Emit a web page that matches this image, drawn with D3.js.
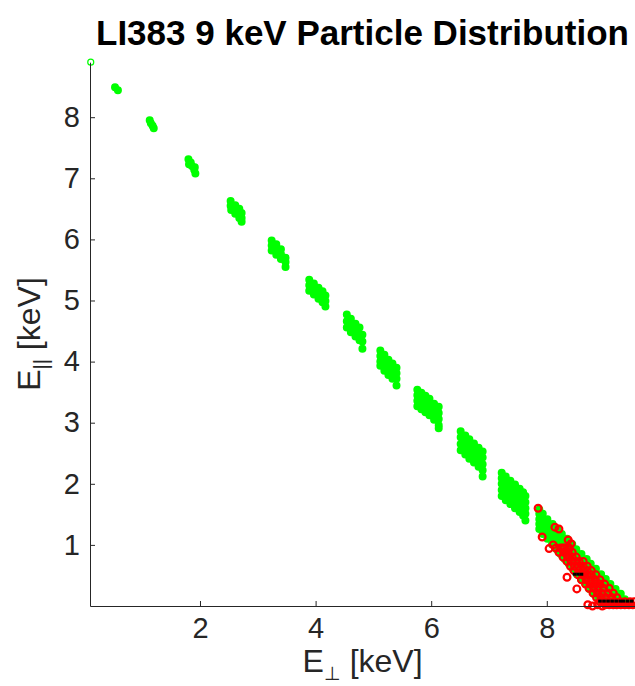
<!DOCTYPE html>
<meta charset="utf-8">
<script src="https://d3js.org/d3.v7.min.js"></script>
<style>
  body { margin: 0; background: #fff; }
  text { font-family: "Liberation Sans", Arial, Helvetica, sans-serif; }
</style>
<div id="chart"></div>
<script>
// particles, [E_perp, E_par] in keV, one array per bunch
var bunch0 = [[0.11, 8.90]];
var bunch1 = [[0.53, 8.49], [0.58, 8.44]];
var bunch2 = [[1.13, 7.95], [1.15, 7.90], [1.18, 7.86], [1.20, 7.82]];
var bunch3 = [[1.80, 7.31], [1.84, 7.26], [1.86, 7.20], [1.90, 7.14], [1.92, 7.08], [1.81, 7.23], [1.91, 7.18]];
var bunch4 = [[2.53, 6.63], [2.53, 6.55], [2.54, 6.48], [2.61, 6.56], [2.61, 6.48], [2.61, 6.42],
              [2.68, 6.50], [2.68, 6.42], [2.68, 6.35], [2.72, 6.43], [2.72, 6.35], [2.72, 6.29]];
var bunch5 = [[3.24, 5.98], [3.24, 5.90], [3.24, 5.82], [3.32, 5.92], [3.32, 5.83], [3.32, 5.75],
              [3.40, 5.84], [3.40, 5.76], [3.40, 5.68], [3.48, 5.70], [3.48, 5.63], [3.48, 5.55]];
var bunch6 = [[3.89, 5.34], [3.89, 5.25], [3.89, 5.16], [3.97, 5.28], [3.97, 5.19], [3.97, 5.10],
              [4.05, 5.21], [4.05, 5.12], [4.05, 5.03], [4.12, 5.15], [4.12, 5.06], [4.12, 4.97],
              [4.17, 5.08], [4.17, 4.99], [4.17, 4.90]];
var bunch7 = [[4.54, 4.77], [4.54, 4.66], [4.54, 4.56], [4.61, 4.70], [4.61, 4.59], [4.61, 4.48],
              [4.69, 4.62], [4.69, 4.52], [4.69, 4.41], [4.76, 4.56], [4.76, 4.45], [4.76, 4.35],
              [4.81, 4.44], [4.81, 4.33], [4.81, 4.21]];
var bunch8 = [[5.12, 4.18], [5.12, 4.09], [5.12, 4.00], [5.12, 3.93], [5.19, 4.11], [5.19, 4.02],
              [5.19, 3.93], [5.19, 3.85], [5.26, 4.03], [5.26, 3.94], [5.26, 3.85], [5.26, 3.78],
              [5.33, 3.97], [5.33, 3.88], [5.33, 3.79], [5.33, 3.72], [5.40, 3.90], [5.40, 3.81],
              [5.40, 3.72], [5.40, 3.61]];
var bunch9 = [[5.76, 3.54], [5.76, 3.45], [5.76, 3.36], [5.76, 3.27], [5.83, 3.49], [5.83, 3.40],
              [5.83, 3.31], [5.83, 3.22], [5.90, 3.44], [5.90, 3.35], [5.90, 3.26], [5.90, 3.17],
              [5.97, 3.39], [5.97, 3.30], [5.97, 3.21], [5.97, 3.12], [6.05, 3.31], [6.05, 3.23],
              [6.05, 3.14], [6.05, 3.05], [6.13, 3.26], [6.13, 3.16], [6.13, 3.06], [6.13, 2.96],
              [6.13, 2.91]];
var bunch10 = [[6.51, 2.86], [6.51, 2.76], [6.51, 2.65], [6.51, 2.55], [6.59, 2.79], [6.59, 2.69],
               [6.59, 2.59], [6.59, 2.48], [6.66, 2.73], [6.66, 2.63], [6.66, 2.52], [6.66, 2.41],
               [6.74, 2.66], [6.74, 2.56], [6.74, 2.45], [6.74, 2.35], [6.82, 2.59], [6.82, 2.50],
               [6.82, 2.39], [6.82, 2.28], [6.89, 2.53], [6.89, 2.43], [6.89, 2.32], [6.89, 2.22],
               [6.89, 2.12]];
var bunch11 = [[7.22, 2.18], [7.22, 2.09], [7.22, 2.00], [7.22, 1.90], [7.22, 1.80],
               [7.29, 2.12], [7.29, 2.03], [7.29, 1.93], [7.29, 1.83], [7.29, 1.73],
               [7.37, 2.05], [7.37, 1.96], [7.37, 1.87], [7.37, 1.77], [7.37, 1.67],
               [7.45, 1.99], [7.45, 1.90], [7.45, 1.80], [7.45, 1.70], [7.45, 1.60],
               [7.53, 1.92], [7.53, 1.83], [7.53, 1.73], [7.53, 1.64], [7.53, 1.54],
               [7.59, 1.86], [7.59, 1.78], [7.59, 1.68], [7.59, 1.58], [7.59, 1.48],
               [7.63, 1.80], [7.63, 1.70], [7.63, 1.60], [7.63, 1.51], [7.63, 1.40]];

// last bunch (the tail near 9 keV), listed row by row: one E_par per row
var tailPar = [1.58, 1.51, 1.42, 1.34, 1.26, 1.18, 1.10, 1.01, 0.93, 0.85,
               0.77, 0.69, 0.61, 0.52, 0.44, 0.36, 0.28, 0.20, 0.11, 0.05];
var tailPerp = [
  [7.87],
  [7.87, 7.93],
  [7.87, 7.94, 8.01],
  [7.87, 7.94, 8.02, 8.10],
  [7.87, 7.94, 8.02, 8.10, 8.18],
  [7.93, 8.01, 8.09, 8.18, 8.26],
  [8.01, 8.09, 8.18, 8.26, 8.35],
  [8.09, 8.18, 8.26, 8.35, 8.44],
  [8.17, 8.25, 8.33, 8.42, 8.51],
  [8.24, 8.32, 8.41, 8.51, 8.60],
  [8.31, 8.40, 8.50, 8.59, 8.69],
  [8.38, 8.48, 8.57, 8.67, 8.76],
  [8.45, 8.55, 8.64, 8.75, 8.85],
  [8.52, 8.63, 8.73, 8.83, 8.94],
  [8.59, 8.70, 8.80, 8.91, 9.02],
  [8.67, 8.76, 8.84, 8.93, 9.02, 9.10],
  [8.74, 8.83, 8.92, 9.01, 9.09, 9.19],
  [8.81, 8.90, 9.00, 9.09, 9.18, 9.28],
  [8.89, 8.98, 9.08, 9.17, 9.27, 9.35],
  [8.94, 9.03, 9.13, 9.23, 9.33, 9.42]
];

// lost particles (red), also row by row
var lostPar = [0.95, 0.88, 0.80, 0.73, 0.65, 0.58, 0.51, 0.43, 0.36, 0.29, 0.21, 0.14, 0.07];
var lostPerp = [
  [8.16, 8.24, 8.31, 8.39],
  [8.21, 8.29, 8.37, 8.44],
  [8.28, 8.36, 8.44, 8.51],
  [8.35, 8.42, 8.49, 8.56, 8.63],
  [8.41, 8.48, 8.55, 8.63, 8.70],
  [8.47, 8.55, 8.63, 8.70, 8.77],
  [8.54, 8.62, 8.70, 8.77, 8.85],
  [8.60, 8.68, 8.76, 8.84, 8.92],
  [8.67, 8.75, 8.83, 8.92, 9.00],
  [8.73, 8.81, 8.89, 8.98, 9.08],
  [8.80, 8.88, 8.96, 9.06, 9.15],
  [8.86, 8.94, 9.02, 9.12, 9.21],
  [8.92, 9.01, 9.09, 9.18, 9.27, 9.35, 9.44, 9.51]
];
var lostLoose = [[7.85, 1.60], [8.14, 1.29], [8.21, 1.26], [7.92, 1.13], [8.11, 1.00], [8.04, 0.94],
                 [8.28, 0.95], [8.37, 1.08], [8.42, 1.02], [8.33, 0.88], [8.35, 0.47], [8.52, 0.28],
                 [8.71, 0.02], [8.79, 0.00], [8.88, 0.02], [8.96, 0.00]];
var lostFloor = [[9.01, 0.01], [9.08, 0.01], [9.15, 0.01], [9.21, 0.01], [9.28, 0.01],
                 [9.35, 0.01], [9.42, 0.01], [9.49, 0.01]];

// black flagged particles
var flagged = [[8.48, 0.52], [8.54, 0.52], [8.60, 0.52],
               [8.92, 0.08], [8.99, 0.08], [9.06, 0.08], [9.13, 0.08], [9.20, 0.08],
               [9.27, 0.08], [9.33, 0.08], [9.40, 0.08], [9.47, 0.08]];

var xTicks = [2, 4, 6, 8];
var yTicks = [1, 2, 3, 4, 5, 6, 7, 8];

var W = 635, H = 686;
var svg = d3.select("#chart").append("svg")
    .attr("width", W)
    .attr("height", H)
    .style("display", "block")
    .style("background", "#fff");

var x = d3.scaleLinear().domain([0.097, 9.526]).range([90, 635]);
var y = d3.scaleLinear().domain([0, 8.9]).range([606, 62.2]);

// green bunches
var bunches = [bunch1, bunch2, bunch3, bunch4, bunch5, bunch6, bunch7, bunch8, bunch9, bunch10, bunch11];
var greenPts = [].concat.apply([], bunches);
tailPar.forEach(function (p, i) {
    tailPerp[i].forEach(function (q) { greenPts.push([q, p]); });
});

var redPts = lostLoose.slice();
lostPar.forEach(function (p, i) {
    lostPerp[i].forEach(function (q) { redPts.push([q, p]); });
});

var green = "#00ff00", red = "#ff0000";

svg.append("g").selectAll("circle")
    .data(bunch0)
    .enter().append("circle")
    .attr("cx", d => x(d[0]))
    .attr("cy", d => y(d[1]))
    .attr("r", 3)
    .attr("fill", "none")
    .attr("stroke", green)
    .attr("stroke-width", 1.2);

svg.append("g").selectAll("circle")
    .data(greenPts)
    .enter().append("circle")
    .attr("cx", d => x(d[0]))
    .attr("cy", d => y(d[1]))
    .attr("r", 3.2)
    .attr("fill", green)
    .attr("stroke", green)
    .attr("stroke-width", 1.6);

svg.append("g").selectAll("circle")
    .data(redPts)
    .enter().append("circle")
    .attr("cx", d => x(d[0]))
    .attr("cy", d => y(d[1]))
    .attr("r", 3.4)
    .attr("fill", "none")
    .attr("stroke", red)
    .attr("stroke-width", 2.2);

svg.append("g").selectAll("circle")
    .data(lostFloor)
    .enter().append("circle")
    .attr("cx", d => x(d[0]))
    .attr("cy", d => y(d[1]))
    .attr("r", 3.2)
    .attr("fill", red)
    .attr("stroke", red)
    .attr("stroke-width", 1.2);

svg.append("g").selectAll("rect")
    .data(flagged)
    .enter().append("rect")
    .attr("x", d => x(d[0]) - 1.8)
    .attr("y", d => y(d[1]) - 1.5)
    .attr("width", 3.6)
    .attr("height", 3)
    .attr("fill", "#000");

// axes, MATLAB style ticks pointing inward
var xAxis = svg.append("g")
    .attr("transform", "translate(0," + y(0) + ")")
    .call(d3.axisBottom(x).tickValues(xTicks).tickFormat(d3.format("d"))
        .tickSizeInner(-5).tickSizeOuter(0).tickPadding(11));
var yAxis = svg.append("g")
    .attr("transform", "translate(" + x.range()[0] + ",0)")
    .call(d3.axisLeft(y).tickValues(yTicks).tickFormat(d3.format("d"))
        .tickSizeInner(-5).tickSizeOuter(0).tickPadding(10));

[xAxis, yAxis].forEach(function (g) {
    g.selectAll("path, line").attr("stroke", "#262626");
    g.selectAll("text")
        .attr("fill", "#262626")
        .style("font-size", "29px")
        .style("font-family", '"Liberation Sans", Arial, sans-serif');
});

// title
svg.append("text")
    .attr("x", 362.5)
    .attr("y", 45)
    .attr("text-anchor", "middle")
    .style("font-size", "35px")
    .style("font-weight", "bold")
    .attr("fill", "#000")
    .text("LI383 9 keV Particle Distribution");

// x label
var xl = svg.append("text")
    .attr("x", 362.5)
    .attr("y", 672)
    .attr("text-anchor", "middle")
    .attr("fill", "#262626")
    .style("font-size", "32px");
xl.append("tspan").text("E");
xl.append("tspan").attr("dy", 8).style("font-size", "19px").text("\u22A5");
xl.append("tspan").attr("dy", -8).text(" [keV]");

// y label
var yl = svg.append("text")
    .attr("transform", "translate(40,334) rotate(-90)")
    .attr("text-anchor", "middle")
    .attr("fill", "#262626")
    .style("font-size", "32px");
yl.append("tspan").text("E");
yl.append("tspan").attr("dy", 8).style("font-size", "20px").text("||");
yl.append("tspan").attr("dy", -8).text(" [keV]");
</script>
